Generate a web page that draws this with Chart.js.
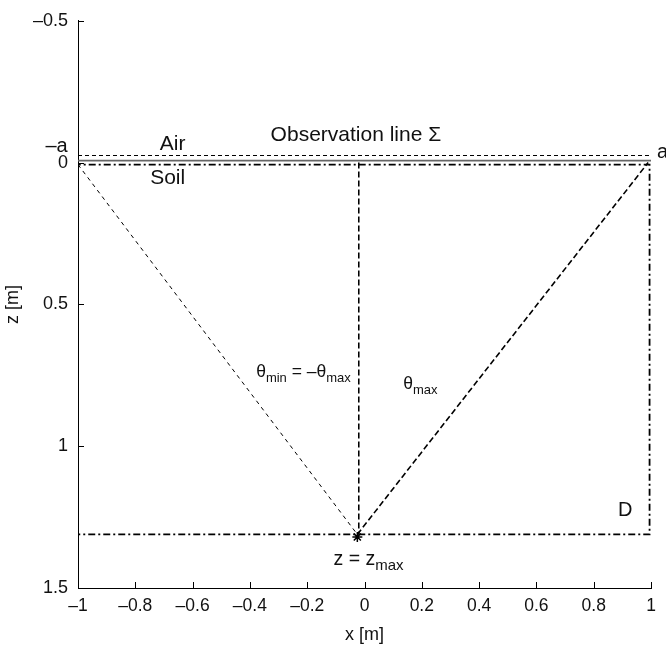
<!DOCTYPE html>
<html>
<head>
<meta charset="utf-8">
<script src="https://cdn.jsdelivr.net/npm/chart.js@4.4.0/dist/chart.umd.min.js"></script>
<style>
  html, body { margin: 0; padding: 0; background: #fff; }
  #wrap { width: 666px; height: 652px; }
</style>
</head>
<body>
<div id="wrap"><canvas id="chart" width="666" height="652"></canvas></div>
<script>
// axis ticks
const xTicks = [-1, -0.8, -0.6, -0.4, -0.2, 0, 0.2, 0.4, 0.6, 0.8, 1];
const zTicks = [-0.5, 0, 0.5, 1, 1.5];

// geometry (x in m, z in m, z grows downward)
const surfaceX = [-1, 1];
const surfaceZ = [-0.007, -0.007];
const obsX = [-1, 1];
const obsZ = [-0.025, -0.025];
const boxX = [-1.015, 0.995, 0.995, -1.015, -1.015];
const boxZ = [0.007, 0.007, 1.311, 1.311, 0.007];
const leftRayX = [-1, -0.025];
const leftRayZ = [0.007, 1.311];
const rightRayX = [-0.025, 0.99];
const rightRayZ = [1.311, 0.0];
const axisRayX = [-0.02, -0.02];
const axisRayZ = [0.0, 1.311];
const sourceX = [-0.025];
const sourceZ = [1.32];

function pts(xs, zs) {
    return xs.map((x, i) => ({ x: x, y: zs[i] }));
}

function dash(s) {
    return String(s).replace('-', '\u2013');
}

const FONT = '"Liberation Sans", Arial, sans-serif';

// text notes: parts are [text, isSubscript]
const notes = [
    { parts: [['Air', 0]], x: -0.67, z: -0.066, size: 21 },
    { parts: [['Observation line \u03A3', 0]], x: -0.03, z: -0.098, size: 21 },
    { parts: [['Soil', 0]], x: -0.687, z: 0.056, size: 21 },
    { parts: [['\u2013a', 0]], x: -1.075, z: -0.056, size: 20 },
    { parts: [['a', 0]], x: 1.04, z: -0.035, size: 20 },
    { parts: [['\u03B8', 0], ['min', 1], [' = \u2013\u03B8', 0], ['max', 1]], x: -0.213, z: 0.738, size: 17.5 },
    { parts: [['\u03B8', 0], ['max', 1]], x: 0.195, z: 0.78, size: 17.5 },
    { parts: [['D', 0]], x: 0.91, z: 1.227, size: 20 },
    { parts: [['z = z', 0], ['max', 1]], x: 0.014, z: 1.399, size: 19.5 }
];

const notesPlugin = {
    id: 'notes',
    afterDraw(chart) {
        const c = chart.ctx;
        const xs = chart.scales.x, ys = chart.scales.y;
        const area = chart.chartArea;
        c.save();
        c.strokeStyle = '#000';
        c.lineWidth = 1;
        // inward tick marks
        xTicks.forEach(v => {
            const px = Math.round(xs.getPixelForValue(v)) + 0.5;
            c.beginPath();
            c.moveTo(px, area.bottom);
            c.lineTo(px, area.bottom - 6);
            c.stroke();
        });
        zTicks.forEach(v => {
            const py = Math.round(ys.getPixelForValue(v)) + 0.5;
            c.beginPath();
            c.moveTo(area.left, py);
            c.lineTo(area.left + 6, py);
            c.stroke();
        });
        // notes
        c.fillStyle = '#111';
        c.textBaseline = 'middle';
        notes.forEach(n => {
            const big = n.size + 'px ' + FONT;
            const small = Math.round(n.size * 0.75) + 'px ' + FONT;
            let w = 0;
            n.parts.forEach(p => {
                c.font = p[1] ? small : big;
                w += c.measureText(p[0]).width;
            });
            let px = xs.getPixelForValue(n.x) - w / 2;
            const py = ys.getPixelForValue(n.z);
            c.textAlign = 'left';
            n.parts.forEach(p => {
                c.font = p[1] ? small : big;
                c.fillText(p[0], px, p[1] ? py + n.size * 0.35 : py);
                px += c.measureText(p[0]).width;
            });
        });
        c.restore();
    }
};

const lineBase = { showLine: true, pointRadius: 0, fill: false, borderColor: '#000', tension: 0 };

new Chart(document.getElementById('chart'), {
    type: 'scatter',
    data: {
        datasets: [
            Object.assign({}, lineBase, { data: pts(surfaceX, surfaceZ), borderColor: '#666', borderWidth: 1.6 }),
            Object.assign({}, lineBase, { data: pts(obsX, obsZ), borderWidth: 1, borderDash: [4, 3] }),
            Object.assign({}, lineBase, { data: pts(boxX, boxZ), borderWidth: 1.8, borderDash: [7, 3, 2, 3] }),
            Object.assign({}, lineBase, { data: pts(leftRayX, leftRayZ), borderWidth: 1, borderDash: [4, 4] }),
            Object.assign({}, lineBase, { data: pts(rightRayX, rightRayZ), borderWidth: 1.6, borderDash: [6, 3] }),
            Object.assign({}, lineBase, { data: pts(axisRayX, axisRayZ), borderWidth: 1.6, borderDash: [6, 3] }),
            { data: pts(sourceX, sourceZ), showLine: false, pointStyle: 'star', pointRadius: 5,
              borderColor: '#000', backgroundColor: '#000', borderWidth: 1.5 }
        ]
    },
    options: {
        responsive: false,
        animation: false,
        events: [],
        layout: { padding: { top: 16, right: 15, left: 0, bottom: 0 } },
        plugins: { legend: { display: false }, tooltip: { enabled: false } },
        scales: {
            x: {
                type: 'linear', min: -1, max: 1,
                afterBuildTicks: s => { s.ticks = xTicks.map(v => ({ value: v })); },
                afterFit: s => { s.height = 64; },
                grid: { display: false, drawTicks: false },
                border: { display: true, color: '#000', width: 1 },
                ticks: { color: '#111', padding: 8, maxRotation: 0, autoSkip: false,
                         font: { family: FONT, size: 17.5 },
                         callback: v => dash(v) },
                title: { display: true, text: 'x [m]', color: '#111', padding: { top: 0, bottom: 6 },
                         font: { family: FONT, size: 18 } }
            },
            y: {
                type: 'linear', min: -0.5, max: 1.5, reverse: true,
                afterBuildTicks: s => { s.ticks = zTicks.map(v => ({ value: v })); },
                afterFit: s => { s.width = 78; },
                grid: { display: false, drawTicks: false },
                border: { display: true, color: '#000', width: 1 },
                ticks: { color: '#111', padding: 10, autoSkip: false,
                         font: { family: FONT, size: 18 },
                         callback: v => dash(v) },
                title: { display: true, text: 'z [m]', color: '#111', padding: { top: 2, bottom: 0 },
                         font: { family: FONT, size: 18 } }
            }
        }
    },
    plugins: [notesPlugin]
});
</script>
</body>
</html>
